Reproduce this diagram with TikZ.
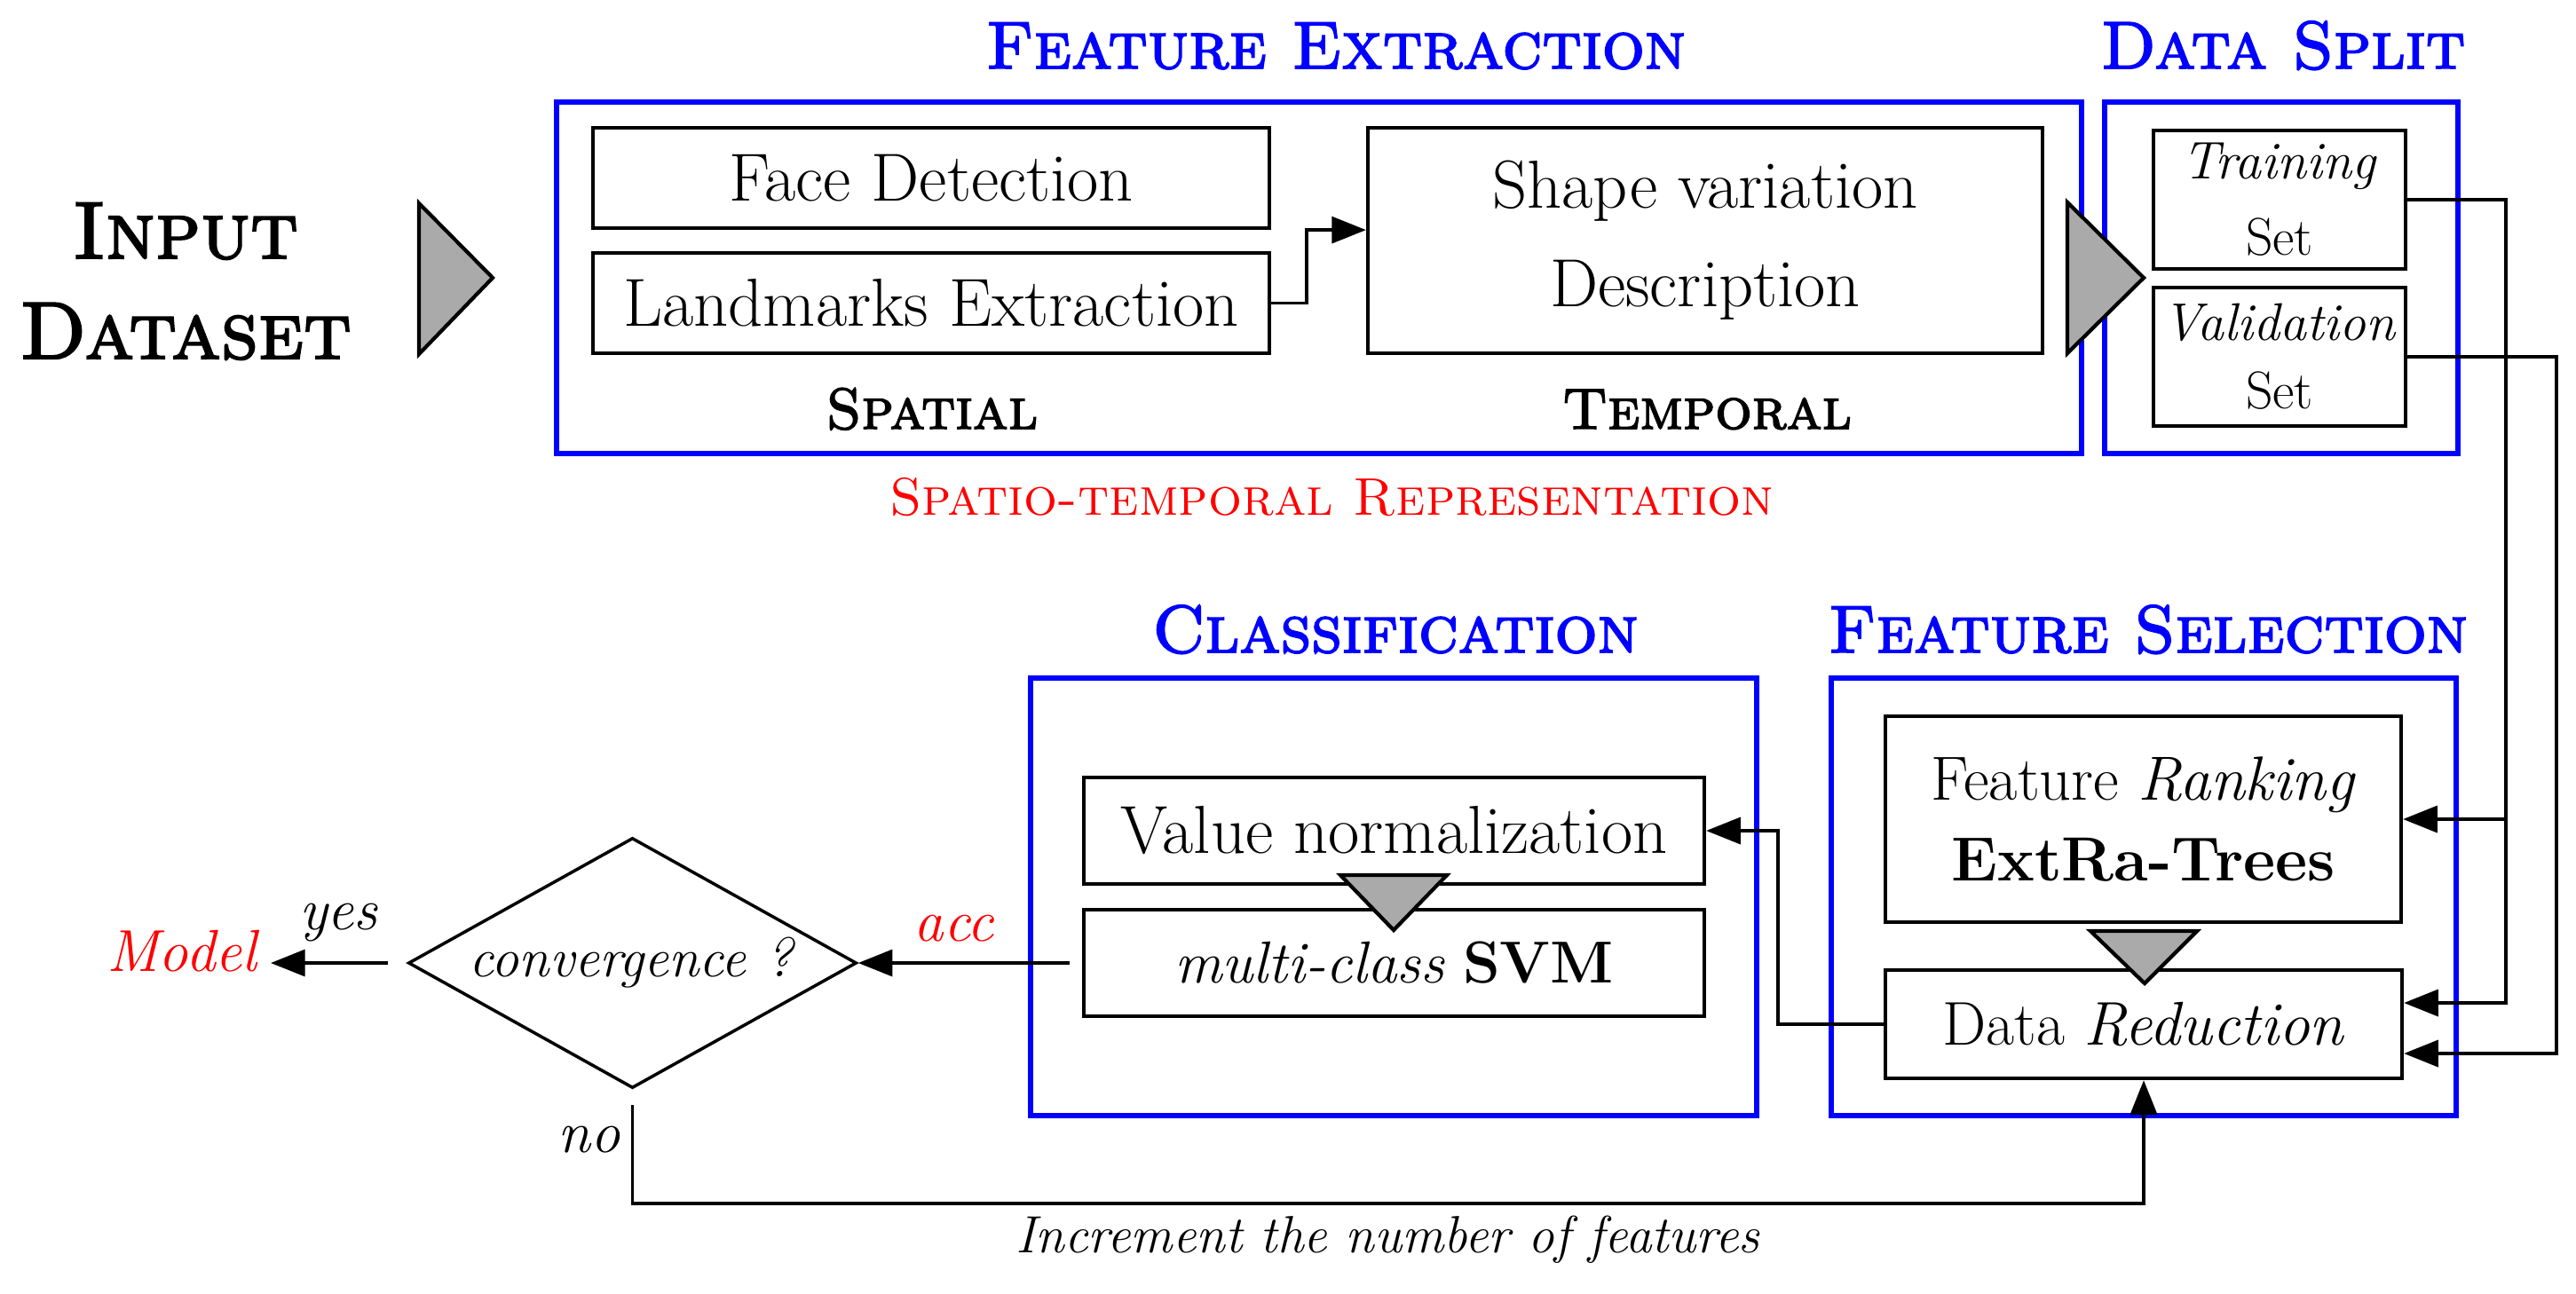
\documentclass[tikz,border=0pt]{standalone}
\usepackage{fontspec}
\usepackage{tikz}
\usetikzlibrary{shapes,arrows,arrows.meta}
\newfontfamily\headfont{lmromancaps10-regular.otf}[FakeBold=2.5]
\definecolor{trigray}{RGB}{170,170,170}
\tikzstyle{block} = [rectangle, draw, line width=1.2pt,
	text centered, inner sep=0pt]
\tikzstyle{wide} = [font=\fontsize{21.8}{26}\selectfont]
\tikzstyle{stage} = [rectangle, draw=blue, line width=1.8pt,
	inner sep=0pt]
\tikzstyle{heading} = [text=blue, anchor=base, inner sep=0pt,
	font=\headfont\fontsize{21.5}{25}\selectfont]
\tikzstyle{part} = [anchor=base, inner sep=0pt,
	font=\headfont\fontsize{18.5}{22}\selectfont]
\tikzstyle{decision} = [diamond, draw, line width=1pt, inner sep=0pt, aspect=1.79]
\tikzstyle{line} = [draw, line width=1.1pt, -{Triangle[length=11pt,width=8.5pt]}]
\tikzstyle{funnel} = [draw, line width=1.2pt, fill=trigray]

\begin{document}
\begin{tikzpicture}[font=\fontsize{19}{23}\selectfont]
	\useasboundingbox (0,0) rectangle (29.02,-14.57);

	% Place stages
	\node [stage, minimum width=17.18cm, minimum height=3.96cm] (fe) at (14.86,-3.13) {};
	\node [stage, minimum width=3.98cm, minimum height=3.96cm, right of=fe, node distance=10.84cm] (ds) {};
	\node [stage, minimum width=8.18cm, minimum height=4.93cm] (cl) at (15.70,-10.105) {};
	\node [stage, minimum width=7.04cm, minimum height=4.93cm, right of=cl, node distance=8.45cm] (fs) {};

	% Titles
	\node [part, font=\headfont\fontsize{26}{30}\selectfont] (inp) at (2.09,-2.91) {Input};
	\node [part, font=\headfont\fontsize{26}{30}\selectfont] (dset) at (2.09,-4.04) {Dataset};
	\node [heading] (feh) at (15.05,-0.77) {Feature Extraction};
	\node [heading] (dsh) at (25.72,-0.77) {Data Split};
	\node [heading] (clh) at (15.72,-7.35) {Classification};
	\node [heading] (fsh) at (24.20,-7.35) {Feature Selection};
	\node [part] (spat) at (10.50,-4.83) {Spatial};
	\node [part] (temp) at (19.23,-4.83) {Temporal};
	\node [anchor=base, inner sep=0pt, text=red, font=\scshape\fontsize{17}{21}\selectfont] (rep) at (15.00,-5.80) {Spatio-temporal Representation};

	% Place nodes
	\node [block, wide, minimum width=7.62cm, minimum height=1.13cm] (face) at (10.49,-2.005) {Face Detection};
	\node [block, wide, minimum width=7.62cm, minimum height=1.13cm, below of=face, node distance=1.41cm] (land) {Landmarks Extraction};
	\node [block, minimum width=7.60cm, minimum height=2.54cm, align=center,
		font=\fontsize{21.8}{31.6}\selectfont] (shape) at (19.21,-2.71) {Shape variation\\Description};
	\node [block, minimum width=2.84cm, minimum height=1.56cm, align=center,
		font=\fontsize{17}{24.5}\selectfont] (train) at (25.68,-2.25) {\textit{Training}\\Set};
	\node [block, minimum width=2.84cm, minimum height=1.56cm, align=center,
		font=\fontsize{17}{21.9}\selectfont, below of=train, node distance=1.77cm] (valid) {\textit{Validation}\\Set};
	\node [block, minimum width=5.81cm, minimum height=2.32cm, align=center,
		font=\fontsize{20}{26}\selectfont] (rank) at (24.145,-9.23) {Feature \textit{Ranking}\\\textbf{ExtRa-Trees}};
	\node [block, minimum width=5.82cm, minimum height=1.22cm,
		font=\fontsize{19.8}{24}\selectfont] (reduc) at (24.15,-11.54) {Data \textit{Reduction}};
	\node [block, wide, minimum width=6.99cm, minimum height=1.20cm] (norm) at (15.705,-9.36) {Value normalization};
	\node [block, minimum width=6.99cm, minimum height=1.20cm, below of=norm, node distance=1.49cm] (svm) {\textit{multi-class} \textbf{SVM}};
	\node [decision, minimum width=5.05cm, minimum height=2.82cm,
		font=\fontsize{17.7}{21}\selectfont] (conv) at (7.125,-10.85) {\textit{convergence ?}};
	\node [text=red, anchor=east] (model) at (3.05,-10.72) {\textit{Model}};

	% Flow triangles
	\filldraw [funnel] (4.72,-2.29) -- (4.72,-3.99) -- (5.55,-3.13) -- cycle;
	\filldraw [funnel] (23.29,-2.28) -- (23.29,-3.98) -- (24.15,-3.13) -- cycle;
	\filldraw [funnel] (15.10,-9.86) -- (16.30,-9.86) -- (15.70,-10.48) -- cycle;
	\filldraw [funnel] (23.55,-10.49) -- (24.75,-10.49) -- (24.16,-11.08) -- cycle;

	% Draw edges
	\coordinate (tbus) at (28.23,-11.30);
	\coordinate (vbus) at (28.80,-11.87);
	\coordinate (loop) at (0,-13.56);
	\path [line] (land.east) -- ++(0.40,0) |- (shape.west |- face.south);
	\path [line] (train.east) -| (tbus) -- (tbus -| reduc.east);
	\path [line] (tbus |- rank.east) -- (rank.east);
	\path [line] (valid.east) -| (vbus) -- (vbus -| reduc.east);
	\path [line] (reduc.west) -- ++(-1.19,0) |- (norm.east);
	\path [line, shorten <=4pt] (svm.west) -- node[above=3pt, text=red, pos=0.57] {\textit{acc}} (conv.east);
	\path [line, shorten <=6pt] (conv.west) -- node[above=3pt] {\textit{yes}} (conv.west -| model.east);
	\path [line, shorten <=5pt] (conv.south) |- node[pos=0.22, left] {\textit{no}}
		node[pos=0.75, below, font=\fontsize{16.8}{20}\selectfont] {\textit{Increment the number of features}} (loop -| reduc.south) -- (reduc.south);
\end{tikzpicture}
\end{document}
